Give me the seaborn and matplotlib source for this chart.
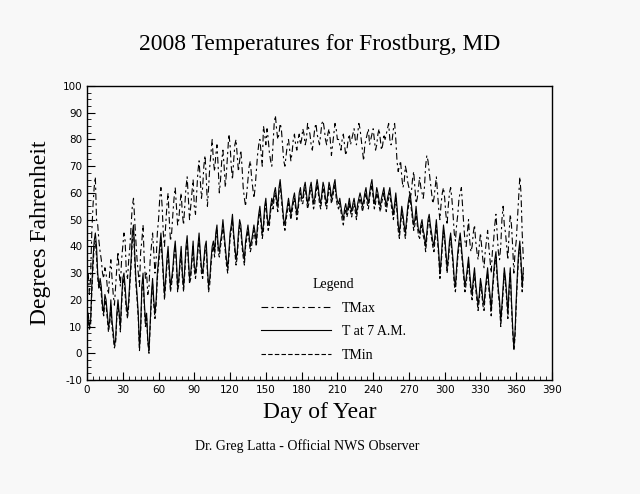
import matplotlib
matplotlib.use("Agg")
import matplotlib.pyplot as plt
import seaborn as sns
import numpy as np
import pandas as pd
from matplotlib.ticker import MultipleLocator

tmax = [30,22,28,45,55,62,66,50,48,42, 38,35,30,28,32,30,25,22,30,35, 28,22,18,25,32,38,30,25,35,40,
 45,42,30,28,35,40,48,55,58,50, 42,35,30,25,38,42,48,35,28,30, 22,25,35,40,45,38,30,35,45,50,
 58,62,55,45,40,48,55,60,50,42, 45,52,58,62,55,48,50,56,60,52, 48,55,62,66,58,50,55,60,65,55,
 52,60,68,72,65,58,62,70,74,66, 55,62,70,75,80,72,68,74,78,70, 60,65,72,76,70,62,68,75,82,78,
 70,65,72,78,80,74,68,72,76,70, 62,58,55,60,65,70,72,66,62,58, 62,68,74,78,80,75,70,85,82,78,
 84,80,75,72,70,78,86,89,84,80, 82,86,84,78,72,70,74,78,80,76, 72,75,80,82,78,76,80,82,78,80,
 84,82,78,80,86,84,82,78,76,80, 84,86,82,80,78,82,86,87,84,80, 78,82,84,80,74,78,82,86,84,80,
 80,78,76,80,82,78,74,76,80,82, 78,80,82,84,80,78,82,86,84,80, 76,72,78,80,82,84,78,80,82,84,
 80,76,78,82,84,80,76,78,82,80, 82,84,86,80,78,80,84,86,80,72, 68,70,72,66,62,64,70,68,64,62,
 58,60,65,68,62,56,58,62,66,62, 60,58,62,70,74,72,68,64,60,56, 58,62,66,60,54,50,56,60,62,58,
 52,48,55,60,62,58,52,45,42,48, 52,58,60,62,55,48,42,40,45,50, 42,38,40,45,48,42,38,35,40,45,
 40,35,32,38,42,46,40,35,30,38, 42,48,52,45,38,35,40,50,55,48, 45,40,35,45,52,48,40,30,38,42,
 50,58,66,60,45,35]
t7 = [15,10,12,25,35,42,45,40,30,25, 28,25,18,15,22,20,15,10,12,20, 12,8,3,5,15,20,15,10,20,28,
 30,25,18,15,20,28,35,45,48,38, 28,22,15,2,10,25,30,20,12,15, 5,1,12,22,28,20,15,20,30,35,
 40,45,38,30,22,28,35,40,32,25, 28,32,38,42,35,25,28,35,40,30, 25,32,40,44,36,28,30,36,42,33,
 30,34,40,45,38,32,30,35,40,42, 32,25,28,35,40,42,38,45,48,40, 38,42,45,50,45,40,35,32,38,45,
 48,52,45,40,35,38,45,50,48,42, 38,35,42,45,48,44,40,42,45,48, 45,42,48,52,55,50,45,48,55,58,
 52,48,50,55,58,56,60,62,58,55, 62,65,60,55,50,48,52,55,58,55, 52,55,58,60,56,52,55,60,62,58,
 58,62,64,60,56,58,62,64,60,56, 58,62,65,62,58,56,60,64,62,58, 56,60,64,62,58,60,63,65,60,57,
 56,58,55,52,50,54,56,53,55,58, 55,53,56,58,55,52,56,58,60,58, 55,57,60,62,58,56,60,63,65,60,
 56,58,62,60,57,55,58,60,62,58, 55,58,60,62,58,55,52,56,60,55, 48,45,50,55,52,48,45,50,55,58,
 60,56,52,48,50,55,50,46,45,48, 50,46,44,40,45,50,52,48,45,42, 40,45,50,44,38,30,35,42,48,44,
 38,32,36,42,45,40,35,28,25,32, 38,42,45,40,35,30,25,28,32,36, 30,25,22,28,32,26,22,18,22,28,
 25,20,18,24,28,32,26,22,16,24, 30,35,38,30,24,20,12,18,25,32, 28,22,15,25,32,20,10,2,8,20,
 30,38,42,35,25,32]
tmin = [12,9,10,22,32,40,42,36,28,24, 26,22,16,14,20,18,13,8,11,18, 10,6,2,4,13,18,14,8,18,26,
 28,22,16,13,18,26,33,42,46,35, 26,20,13,1,8,23,28,18,10,13, 4,0,10,20,26,18,13,18,28,33,
 38,42,36,28,20,26,33,38,30,23, 26,30,36,40,33,23,26,33,38,28, 23,30,38,42,34,26,28,34,40,31,
 28,32,38,43,36,30,28,33,38,40, 30,23,26,33,38,40,36,43,46,38, 36,40,43,48,43,38,33,30,36,43,
 46,50,43,38,33,36,43,48,46,40, 36,33,40,43,46,42,38,40,43,46, 43,40,46,50,53,48,43,46,53,56,
 50,46,48,53,56,54,58,60,56,53, 60,63,58,53,48,46,50,53,56,53, 50,53,56,58,54,50,53,58,60,56,
 56,60,62,58,54,56,60,62,58,54, 56,60,63,60,56,54,58,62,60,56, 54,58,62,60,56,58,61,63,58,55,
 54,56,53,50,48,52,54,51,53,56, 53,51,54,56,53,50,54,56,58,56, 53,55,58,60,56,54,58,61,63,58,
 54,56,60,58,55,53,56,58,60,56, 53,56,58,60,56,53,50,54,58,53, 46,43,48,53,50,46,43,48,53,56,
 58,54,50,46,48,53,48,44,43,46, 48,44,42,38,43,48,50,46,43,40, 38,43,48,42,36,28,33,40,46,42,
 36,30,34,40,43,38,33,26,23,30, 36,40,43,38,33,28,23,26,30,34, 28,23,20,26,30,24,20,16,20,26,
 23,18,16,22,26,30,24,20,14,22, 28,33,36,28,22,18,10,16,23,30, 26,20,13,23,30,18,8,1,6,18,
 28,36,40,33,23,30]

days = np.arange(1, len(tmax) + 1)
df = pd.DataFrame({"day": days, "TMax": tmax, "T7": t7, "TMin": tmin})

bg = "#f8f8f8"
plt.rcParams["font.family"] = "Liberation Serif"
plt.rcParams["axes.unicode_minus"] = False
fig = plt.figure(figsize=(6.4, 4.94), dpi=100, facecolor=bg)
ax = fig.add_axes([87/640, 114/494, 465/640, 294/494])
ax.set_facecolor(bg)

sns.lineplot(data=df, x="day", y="TMax", ax=ax, color="black", lw=0.8,
             linestyle=(0, (6, 3, 2, 3)), label="TMax")
sns.lineplot(data=df, x="day", y="T7", ax=ax, color="black", lw=0.8,
             linestyle="-", label="T at 7 A.M.")
sns.lineplot(data=df, x="day", y="TMin", ax=ax, color="black", lw=0.8,
             linestyle=(0, (4, 2)), label="TMin")

ax.set_xlim(0, 390)
ax.set_ylim(-10, 100)
ax.xaxis.set_major_locator(MultipleLocator(30))
ax.xaxis.set_minor_locator(MultipleLocator(5))
ax.yaxis.set_major_locator(MultipleLocator(10))
ax.yaxis.set_minor_locator(MultipleLocator(2.5))
ax.tick_params(which="both", direction="in", labelsize=8, top=False, right=False)
ax.tick_params(which="major", length=6)
ax.tick_params(which="minor", length=3)
for lab in ax.get_xticklabels() + ax.get_yticklabels():
    lab.set_fontfamily("DejaVu Sans")
    lab.set_fontsize(7.5)
for s in ax.spines.values():
    s.set_linewidth(1)

ax.set_xlabel("Day of Year", fontsize=17, labelpad=5)
ax.set_ylabel("Degrees Fahrenheit", fontsize=17, labelpad=8)
ax.set_title("2008 Temperatures for Frostburg, MD", fontsize=17, pad=26)

leg = ax.legend(loc="lower center", bbox_to_anchor=(0.53, 0.02), frameon=False,
                title="Legend", fontsize=10, title_fontsize=10, handlelength=5,
                labelspacing=0.75)
fig.text(0.48, 0.09, "Dr. Greg Latta - Official NWS Observer", ha="center", fontsize=10)

fig.savefig("out.png", dpi=100, facecolor=bg)
